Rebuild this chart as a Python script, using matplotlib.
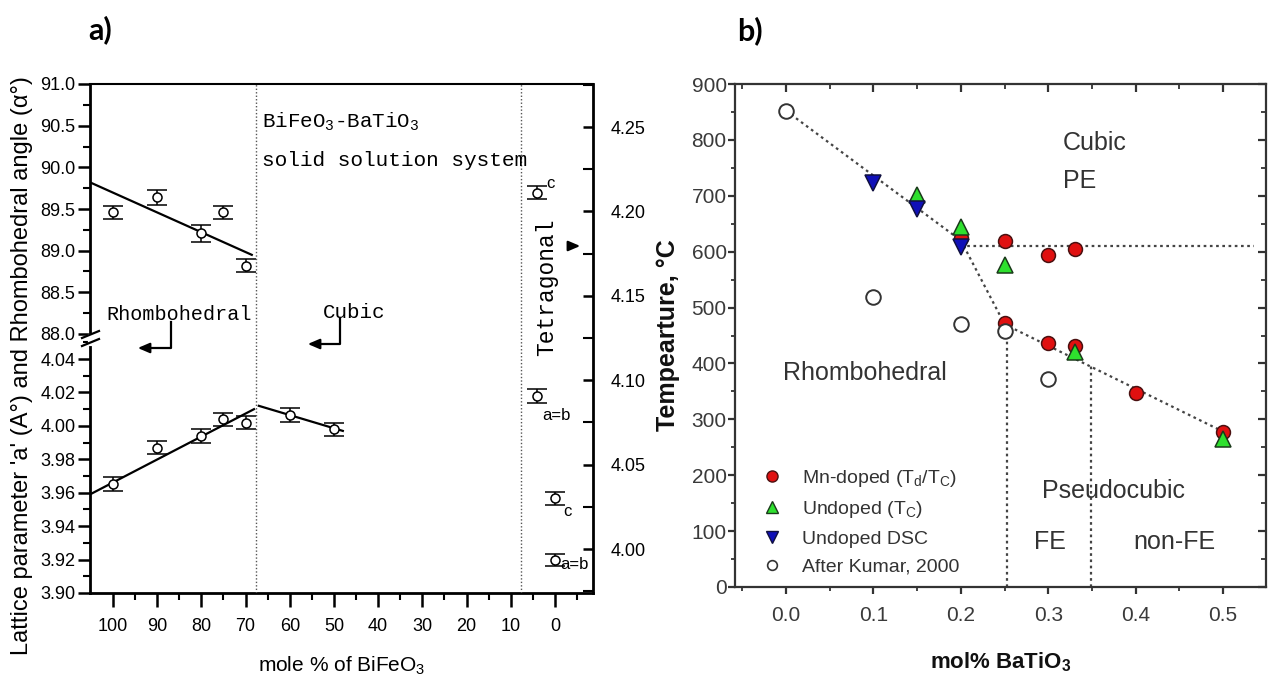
import matplotlib
matplotlib.use('Agg')
import matplotlib.pyplot as plt
from matplotlib import font_manager
from matplotlib.ticker import MultipleLocator, FormatStrFormatter
from matplotlib.lines import Line2D

# ---------------- panel a data ----------------
mole_rh = [100, 90, 80, 75, 70]
angle_rh = [89.46, 89.64, 89.21, 89.46, 88.82]
angle_err = [0.08, 0.09, 0.10, 0.08, 0.08]
angle_fit_x = [105.2, 68.6]
angle_fit_y = [89.82, 88.95]

lattice_rh = [3.9653, 3.987, 3.994, 4.004, 4.002]
lattice_rh_err = [0.004, 0.004, 0.004, 0.004, 0.004]
lattice_fit_x = [105.2, 68.1]
lattice_fit_y = [3.959, 4.010]

mole_cub = [60, 50]
lattice_cub = [4.0066, 3.998]
lattice_cub_err = [0.004, 0.004]
cub_fit_x = [67, 48]
cub_fit_y = [4.012, 3.997]

mole_tet = [4, 4, 0, 0]
lattice_tet = [4.2112, 4.0905, 4.0302, 3.9935]
lattice_tet_err = [0.0037, 0.0042, 0.0038, 0.0035]
tet_labels = ['c', 'a=b', 'c', 'a=b']
phase_bounds_a = [67.6, 7.7]

# ---------------- panel b data ----------------
kumar_x = [0.0, 0.1, 0.2, 0.25, 0.3]
kumar_y = [852, 519, 470, 458, 373]
mn_x = [0.2, 0.25, 0.3, 0.33, 0.25, 0.3, 0.33, 0.4, 0.5]
mn_y = [624, 619, 594, 605, 472, 436, 431, 348, 277]
und_x = [0.15, 0.2, 0.25, 0.33, 0.5]
und_y = [701, 645, 576, 420, 264]
dsc_x = [0.1, 0.15, 0.2]
dsc_y = [722, 677, 608]
bound_x = [0.0, 0.2, 0.25, 0.5]
bound_y = [852, 620, 470, 278]
tc_x = [0.2, 0.535]
tc_y = [610, 610]
fe_x = [0.253, 0.349]
fe_top = [466, 395]
legend_labels = [r'Mn-doped (T$_\mathrm{d}$/T$_\mathrm{C}$)', r'Undoped (T$_\mathrm{C}$)',
                 'Undoped DSC', 'After Kumar, 2000']

W, H = 1270, 684
names = {f.name for f in font_manager.fontManager.ttflist}
NARROW = 'Liberation Sans Narrow' if 'Liberation Sans Narrow' in names else 'Liberation Sans'
SANS = 'Liberation Sans'
MONO = 'Liberation Mono'
nsz = 15 if NARROW != SANS else 13

plt.rcParams['font.family'] = [SANS, 'DejaVu Sans']
plt.rcParams['mathtext.fontset'] = 'custom'
plt.rcParams['mathtext.rm'] = SANS
plt.rcParams['mathtext.it'] = SANS + ':italic'
plt.rcParams['mathtext.bf'] = SANS + ':bold'
plt.rcParams['mathtext.tt'] = MONO

fig = plt.figure(figsize=(W / 100, H / 100), dpi=100)


def fx(px):
    return px / W


def fy(py):
    return 1 - py / H


# ---------------- panel a axes ----------------
L, R = 90, 593
ax_top = fig.add_axes([fx(L), fy(340), (R - L) / W, (340 - 84) / H])
ax_bot = fig.add_axes([fx(L), fy(593), (R - L) / W, (593 - 340) / H])
ax_r = fig.add_axes([fx(L), fy(593), (R - L) / W, (593 - 84) / H])
ax_r.patch.set_visible(False)

xl = (105.2, -8.6)
for a in (ax_top, ax_bot, ax_r):
    a.set_xlim(*xl)
ax_top.set_ylim(87.928, 91.0)
ax_bot.set_ylim(3.90, 4.0514)
ax_r.set_ylim(3.974, 4.2755)

# spines
ax_top.spines['bottom'].set_visible(False)
ax_top.spines['right'].set_visible(False)
ax_top.spines['top'].set_linewidth(1.5)
ax_top.spines['left'].set_linewidth(2)
ax_bot.spines['top'].set_visible(False)
ax_bot.spines['right'].set_visible(False)
ax_bot.spines['left'].set_linewidth(2)
ax_bot.spines['bottom'].set_linewidth(2)
for s in ('top', 'left', 'bottom'):
    ax_r.spines[s].set_visible(False)
ax_r.spines['right'].set_linewidth(2)

# ticks
ax_top.tick_params(axis='x', which='both', bottom=False, top=False, labelbottom=False)
ax_top.yaxis.set_major_locator(MultipleLocator(0.5))
ax_top.yaxis.set_minor_locator(MultipleLocator(0.25))
ax_top.yaxis.set_major_formatter(FormatStrFormatter('%.1f'))
ax_top.tick_params(axis='y', which='major', direction='out', length=8.5, width=1.8, pad=2,
                   labelsize=nsz, labelfontfamily=NARROW)
ax_top.tick_params(axis='y', which='minor', direction='out', length=5, width=1.5)

ax_bot.yaxis.set_minor_locator(MultipleLocator(0.01))
ax_bot.yaxis.set_major_formatter(FormatStrFormatter('%.2f'))
ax_bot.set_yticks([3.90, 3.92, 3.94, 3.96, 3.98, 4.00, 4.02, 4.04])
ax_bot.tick_params(axis='y', which='major', direction='out', length=8.5, width=1.8, pad=2,
                   labelsize=nsz, labelfontfamily=NARROW)
ax_bot.tick_params(axis='y', which='minor', direction='out', length=5, width=1.5)
ax_bot.set_xticks(list(range(100, -1, -10)))
ax_bot.set_xticks([95, 85, 75, 65, 55, 45, 35, 25, 15, 5, -5], minor=True)
ax_bot.tick_params(axis='x', which='major', direction='out', length=10, width=1.8, pad=8,
                   labelsize=nsz, labelfontfamily=NARROW)
ax_bot.tick_params(axis='x', which='minor', direction='out', length=5, width=1.5)

ax_r.tick_params(axis='x', which='both', bottom=False, top=False, labelbottom=False)
ax_r.yaxis.tick_right()
ax_r.yaxis.set_major_locator(MultipleLocator(0.05))
ax_r.yaxis.set_minor_locator(MultipleLocator(0.025))
ax_r.yaxis.set_major_formatter(FormatStrFormatter('%.2f'))
ax_r.tick_params(axis='y', which='major', direction='in', length=7, width=1.8, pad=13,
                 labelsize=nsz, labelfontfamily=NARROW, left=False)
ax_r.tick_params(axis='y', which='minor', direction='in', length=7, width=1.5, left=False)

# phase boundaries
for xb in phase_bounds_a:
    ax_r.axvline(xb, color='#555555', ls=(0, (1, 1.5)), lw=1.0, zorder=1)

eb = dict(fmt='o', ms=6.5, mfc='white', mec='black', mew=1.1, ecolor='black',
          elinewidth=1.1, capsize=7.5, capthick=1.6, zorder=3)
ax_top.errorbar(mole_rh, angle_rh, yerr=angle_err, **eb)
ax_top.plot(angle_fit_x, angle_fit_y, color='black', lw=1.6, zorder=2)
ax_bot.errorbar(mole_rh, lattice_rh, yerr=lattice_rh_err, **eb)
ax_bot.plot(lattice_fit_x, lattice_fit_y, color='black', lw=1.6, zorder=2)
ax_bot.errorbar(mole_cub, lattice_cub, yerr=lattice_cub_err, **eb)
ax_bot.plot(cub_fit_x, cub_fit_y, color='black', lw=1.6, zorder=2)
ax_r.errorbar(mole_tet, lattice_tet, yerr=lattice_tet_err, **eb)

# tetragonal labels (offset from the points in pixels)
tet_offsets = [(9, 9), (5, -19), (8, -13), (5, -4)]
for xv, yv, lab, off in zip(mole_tet, lattice_tet, tet_labels, tet_offsets):
    ax_r.annotate(lab, (xv, yv), xytext=off, textcoords='offset pixels',
                  fontsize=12, family=NARROW, ha='left', va='center')


def afx(px):
    return (px - L) / (R - L)


def afy(py):
    return (593 - py) / (593 - 84)


ax_r.text(afx(262), afy(122), r'BiFeO$_\mathtt{3}$-BaTiO$_\mathtt{3}$', transform=ax_r.transAxes,
          family=MONO, fontsize=15, ha='left', va='center')
ax_r.text(afx(262), afy(160), 'solid solution system', transform=ax_r.transAxes,
          family=MONO, fontsize=15.2, ha='left', va='center')
ax_r.text(afx(106), afy(315), 'Rhombohedral', transform=ax_r.transAxes,
          family=MONO, fontsize=14.5, ha='left', va='center')
ax_r.text(afx(323), afy(313), 'Cubic', transform=ax_r.transAxes,
          family=MONO, fontsize=15, ha='left', va='center')
ax_r.text(afx(547), afy(287), 'Tetragonal', transform=ax_r.transAxes,
          family=MONO, fontsize=16.5, ha='center', va='center', rotation=90)

arrow_kw = dict(arrowstyle='-|>,head_length=0.7,head_width=0.3', color='black', lw=1.6)
for (xv, y0, y1, x1) in [(171, 322, 348, 135), (340, 318, 344, 305)]:
    ax_r.plot([afx(xv), afx(xv), afx(x1 + 8)], [afy(y0), afy(y1), afy(y1)],
              transform=ax_r.transAxes, color='black', lw=1.6)
    ax_r.annotate('', xy=(afx(x1), afy(y1)), xytext=(afx(x1 + 12), afy(y1)),
                  xycoords='axes fraction', textcoords='axes fraction', arrowprops=arrow_kw)
ax_r.annotate('', xy=(afx(583), afy(246)), xytext=(afx(567), afy(246)),
              xycoords='axes fraction', textcoords='axes fraction', arrowprops=arrow_kw)

# axis break marks
fig.add_artist(Line2D([fx(90), fx(90)], [fy(336), fy(344)], color='white', lw=3))
for yb in (338, 346):
    fig.add_artist(Line2D([fx(82), fx(99)], [fy(yb), fy(yb - 7)], color='black', lw=1.6))

ax_bot.set_xlabel(r'mole % of BiFeO$_3$', fontsize=15, family=NARROW, labelpad=14)
fig.text(fx(22), fy(366), "Lattice parameter 'a' (A°) and Rhombohedral angle (α°)",
         rotation=90, ha='center', va='center', fontsize=17, family=[SANS, 'DejaVu Sans'])

# ---------------- panel b ----------------
axb = fig.add_axes([fx(735), fy(587), (1266 - 735) / W, (587 - 84) / H])
axb.set_xlim(-0.0584, 0.549)
axb.set_ylim(0, 900)
GR = '#333333'
for s in axb.spines.values():
    s.set_linewidth(1.6)
    s.set_color(GR)
axb.xaxis.set_major_locator(MultipleLocator(0.1))
axb.xaxis.set_minor_locator(MultipleLocator(0.05))
axb.xaxis.set_major_formatter(FormatStrFormatter('%.1f'))
axb.yaxis.set_major_locator(MultipleLocator(100))
axb.yaxis.set_minor_locator(MultipleLocator(50))
axb.tick_params(axis='both', which='both', color=GR, labelcolor='#3a3a3a')
axb.tick_params(axis='x', which='major', direction='out', length=5, width=1.6, labelsize=15, pad=9)
axb.tick_params(axis='x', which='minor', direction='out', length=3, width=1.3)
axb.tick_params(axis='y', which='major', direction='out', length=5, width=1.6, labelsize=15, pad=1)
axb.tick_params(axis='y', which='minor', direction='out', length=3, width=1.3)
# inward ticks on top and right
axt = axb.twiny()
axt.set_xlim(axb.get_xlim())
axt.xaxis.set_major_locator(MultipleLocator(0.1))
axt.xaxis.set_minor_locator(MultipleLocator(0.05))
axt.tick_params(axis='x', which='major', direction='in', length=6, width=1.6, color=GR, labeltop=False)
axt.tick_params(axis='x', which='minor', direction='in', length=3.5, width=1.3, color=GR)
axrr = axb.twinx()
axrr.set_ylim(axb.get_ylim())
axrr.yaxis.set_major_locator(MultipleLocator(100))
axrr.yaxis.set_minor_locator(MultipleLocator(50))
axrr.tick_params(axis='y', which='major', direction='in', length=6, width=1.6, color=GR, labelright=False)
axrr.tick_params(axis='y', which='minor', direction='in', length=3.5, width=1.3, color=GR)
axb.tick_params(top=False, right=False, which='both')
for a in (axt, axrr):
    for s in a.spines.values():
        s.set_visible(False)
axb.set_zorder(3)
axb.patch.set_visible(False)

dot = (0, (1.2, 1.6))
axb.plot(bound_x, bound_y, color='#444444', ls=dot, lw=1.6, zorder=1)
axb.plot(tc_x, tc_y, color='#444444', ls=dot, lw=1.6, zorder=1)
for xv, yt in zip(fe_x, fe_top):
    axb.plot([xv, xv], [0, yt], color='#444444', ls=dot, lw=1.6, zorder=1)

RED, GRN, BLU = '#e01010', '#2ee02e', '#1010b8'
axb.plot(mn_x, mn_y, ls='none', marker='o', ms=10, mfc=RED, mec='#4a1010', mew=1.1, zorder=3)
axb.plot(und_x, und_y, ls='none', marker='^', ms=11, mfc=GRN, mec='#1a3a1a', mew=1.1, zorder=4)
axb.plot(dsc_x, dsc_y, ls='none', marker='v', ms=11, mfc=BLU, mec='#101040', mew=1.1, zorder=5)
axb.plot(kumar_x, kumar_y, ls='none', marker='o', ms=10.5, mfc='white', mec='#333333', mew=1.4, zorder=6)

tkw = dict(fontsize=18, color='#333333')
axb.text(0.317, 795, 'Cubic', ha='left', va='center', **tkw)
axb.text(0.317, 727, 'PE', ha='left', va='center', **tkw)
axb.text(-0.003, 383, 'Rhombohedral', ha='left', va='center', **tkw)
axb.text(0.293, 172, 'Pseudocubic', ha='left', va='center', **tkw)
axb.text(0.302, 80, 'FE', ha='center', va='center', **tkw)
axb.text(0.444, 80, 'non-FE', ha='center', va='center', **tkw)

handles = [Line2D([], [], ls='none', marker='o', ms=8, mfc=RED, mec='#4a1010', mew=1),
           Line2D([], [], ls='none', marker='^', ms=8, mfc=GRN, mec='#1a3a1a', mew=1),
           Line2D([], [], ls='none', marker='v', ms=8, mfc=BLU, mec='#101040', mew=1),
           Line2D([], [], ls='none', marker='o', ms=7, mfc='white', mec='#333333', mew=1.2)]
leg = axb.legend(handles, legend_labels, loc='upper left', bbox_to_anchor=(0.051, 0.237),
                 frameon=False, fontsize=14, handlelength=1.0, handletextpad=1.05,
                 labelspacing=0.52, borderpad=0, borderaxespad=0)
for t in leg.get_texts():
    t.set_color('#333333')

axb.set_ylabel('Tempearture, °C', fontsize=18, fontweight='bold', color='#111111', labelpad=8)
axb.set_xlabel(r'mol% BaTiO$_\mathbf{3}$', fontsize=16, fontweight='bold', color='#111111', labelpad=18)

fig.text(fx(88), fy(30), 'a)', fontsize=22, fontweight='bold', family=['Lato', SANS], va='center', ha='left')
fig.text(fx(737), fy(31), 'b)', fontsize=22, fontweight='bold', family=['Lato', SANS], va='center', ha='left')

fig.savefig('out.png', dpi=100)
